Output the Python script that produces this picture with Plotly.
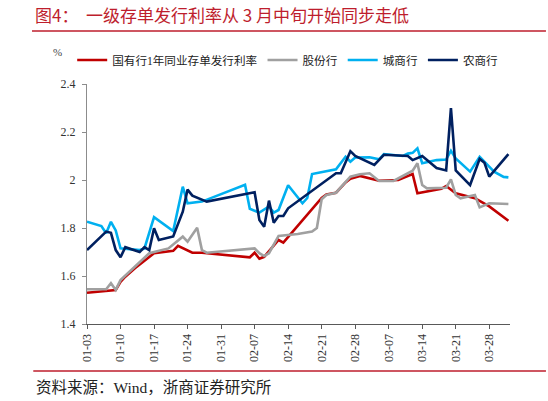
import plotly.graph_objects as go

# ---- data ----
series_names = ["国有行1年同业存单发行利率", "股份行", "城商行", "农商行"]
series_colors = ["#C00000", "#A0A0A0", "#00B0F0", "#002060"]

state_dates = ["2023-01-03", "2023-01-09", "2023-01-10", "2023-01-11", "2023-01-13", "2023-01-17",
               "2023-01-21", "2023-01-22", "2023-01-25", "2023-01-27", "2023-02-06", "2023-02-07",
               "2023-02-08", "2023-02-09", "2023-02-12", "2023-02-13", "2023-02-21", "2023-02-22",
               "2023-02-24", "2023-02-26", "2023-02-27", "2023-03-01", "2023-03-05", "2023-03-09",
               "2023-03-12", "2023-03-13", "2023-03-18", "2023-03-19", "2023-03-21", "2023-03-25",
               "2023-03-28", "2023-03-30", "2023-04-01"]
state_vals = [1.530, 1.542, 1.576, 1.597, 1.632, 1.695,
              1.705, 1.726, 1.697, 1.697, 1.678, 1.697,
              1.672, 1.680, 1.750, 1.739, 1.925, 1.940,
              1.947, 1.990, 2.005, 2.017, 1.997, 2.000,
              2.025, 1.945, 1.963, 1.975, 1.945, 1.924,
              1.890, 1.861, 1.830]

joint_dates = ["2023-01-03", "2023-01-07", "2023-01-08", "2023-01-09", "2023-01-10", "2023-01-16",
               "2023-01-20", "2023-01-23", "2023-01-24", "2023-01-26", "2023-01-27", "2023-01-28",
               "2023-02-07", "2023-02-08", "2023-02-09", "2023-02-10", "2023-02-12", "2023-02-16",
               "2023-02-19", "2023-02-20", "2023-02-21", "2023-02-22", "2023-02-24", "2023-02-27",
               "2023-03-01", "2023-03-03", "2023-03-05", "2023-03-08", "2023-03-12", "2023-03-13",
               "2023-03-14", "2023-03-15", "2023-03-19", "2023-03-20", "2023-03-21", "2023-03-22",
               "2023-03-25", "2023-03-26", "2023-03-28", "2023-04-01"]
joint_vals = [1.545, 1.545, 1.570, 1.542, 1.583, 1.695,
              1.715, 1.764, 1.743, 1.801, 1.708, 1.697,
              1.715, 1.695, 1.683, 1.695, 1.767, 1.775,
              1.785, 1.800, 1.920, 1.9375, 1.947, 2.014,
              2.024, 2.028, 1.996, 1.996, 2.039, 2.070,
              1.979, 1.965, 1.968, 2.003, 1.9375, 1.924,
              1.9375, 1.886, 1.903, 1.900]

city_dates = ["2023-01-03", "2023-01-06", "2023-01-07", "2023-01-08", "2023-01-09", "2023-01-10",
              "2023-01-14", "2023-01-15", "2023-01-17", "2023-01-21", "2023-01-23", "2023-01-24",
              "2023-01-27", "2023-02-05", "2023-02-06", "2023-02-08", "2023-02-10", "2023-02-11",
              "2023-02-12", "2023-02-14", "2023-02-17", "2023-02-18", "2023-02-19", "2023-02-24",
              "2023-02-26", "2023-02-27", "2023-02-28", "2023-03-03", "2023-03-05", "2023-03-06",
              "2023-03-10", "2023-03-11", "2023-03-12", "2023-03-13", "2023-03-14", "2023-03-17",
              "2023-03-19", "2023-03-20", "2023-03-21", "2023-03-24", "2023-03-26", "2023-03-27",
              "2023-03-29", "2023-03-31", "2023-04-01"]
city_vals = [1.826, 1.808, 1.778, 1.826, 1.790, 1.715,
             1.708, 1.715, 1.845, 1.787, 1.972, 1.903,
             1.910, 1.980, 1.880, 1.864, 1.890, 1.864,
             1.875, 1.978, 1.903, 1.925, 2.025, 2.045,
             2.097, 2.076, 2.094, 2.095, 2.086, 2.108,
             2.100, 2.110, 2.113, 2.132, 2.070, 2.083,
             2.085, 2.122, 2.090, 2.035, 2.097, 2.076,
             2.035, 2.013, 2.011]

rural_dates = ["2023-01-03", "2023-01-07", "2023-01-08", "2023-01-09", "2023-01-10", "2023-01-11",
               "2023-01-14", "2023-01-15", "2023-01-16", "2023-01-17", "2023-01-18", "2023-01-21",
               "2023-01-23", "2023-01-24", "2023-01-25", "2023-01-28", "2023-02-07", "2023-02-08",
               "2023-02-09", "2023-02-10", "2023-02-11", "2023-02-12", "2023-02-13", "2023-02-14",
               "2023-02-24", "2023-02-25", "2023-02-27", "2023-02-28", "2023-03-04", "2023-03-06",
               "2023-03-11", "2023-03-12", "2023-03-14", "2023-03-17", "2023-03-19", "2023-03-20",
               "2023-03-21", "2023-03-24", "2023-03-26", "2023-03-27", "2023-03-28", "2023-04-01"]
rural_vals = [1.708, 1.785, 1.780, 1.708, 1.678, 1.720,
              1.700, 1.720, 1.708, 1.799, 1.750, 1.765,
              1.868, 1.960, 1.935, 1.910, 1.949, 1.833,
              1.805, 1.914, 1.822, 1.850, 1.850, 1.882,
              2.028, 2.028, 2.120, 2.100, 2.063, 2.105,
              2.100, 2.083, 2.100, 2.050, 2.040, 2.300,
              2.040, 1.979, 2.088, 2.072, 2.014, 2.108]

y_tickvals = [1.4, 1.6, 1.8, 2.0, 2.2, 2.4]
y_ticktext = ["1.4", "1.6", "1.8", "2", "2.2", "2.4"]

title_text = "图4：  一级存单发行利率从 3 月中旬开始同步走低"
source_text = "资料来源：Wind，浙商证券研究所"
unit_text = "%"

SERIF = "Liberation Serif, Noto Sans CJK SC"
CJK = "Noto Sans CJK SC"
RED = "#BE1E2D"

fig = go.Figure()
all_x = [state_dates, joint_dates, city_dates, rural_dates]
all_y = [state_vals, joint_vals, city_vals, rural_vals]
for name, color, xs, ys in zip(series_names, series_colors, all_x, all_y):
    fig.add_trace(go.Scatter(x=xs, y=ys, mode="lines", name=name,
                             line=dict(color=color, width=2.6)))

fig.update_layout(
    width=548, height=401,
    margin=dict(l=87, r=38, t=84, b=77, autoexpand=False),
    paper_bgcolor="white", plot_bgcolor="white",
    showlegend=True,
    legend=dict(orientation="h", x=-0.035, xanchor="left", y=1.1, yanchor="middle",
                font=dict(family=SERIF, size=11.6, color="#222"),
                itemwidth=30, tracegroupgap=0, bgcolor="rgba(0,0,0,0)"),
    xaxis=dict(type="date", range=["2023-01-03", "2023-04-01 08:00"],
               tick0="2023-01-03", dtick=7 * 24 * 3600 * 1000, tickformat="%m-%d",
               tickangle=-90, ticks="outside", ticklen=4, tickcolor="#595959",
               showline=True, linecolor="#595959", linewidth=1.3,
               showgrid=False, zeroline=False, automargin=False,
               tickfont=dict(family=SERIF, size=12, color="#333")),
    yaxis=dict(range=[1.4, 2.4], tickvals=y_tickvals, ticktext=y_ticktext,
               ticks="outside", ticklen=4, tickcolor="#8C8C8C", ticklabelstandoff=4,
               showline=True, linecolor="#8C8C8C", linewidth=1.3,
               showgrid=False, zeroline=False, automargin=False,
               tickfont=dict(family=SERIF, size=12, color="#333")),
)

fig.add_annotation(text=title_text, xref="paper", yref="paper", x=-0.1277, y=1.2875,
                   xanchor="left", yanchor="middle", showarrow=False,
                   font=dict(family=CJK, size=17, color=RED))
fig.add_annotation(text=unit_text, xref="paper", yref="paper", x=-0.0686, y=1.133,
                   xanchor="center", yanchor="middle", showarrow=False,
                   font=dict(family=SERIF, size=11, color="#444"))
fig.add_annotation(text=source_text, xref="paper", yref="paper", x=-0.125, y=-0.2625,
                   xanchor="left", yanchor="middle", showarrow=False,
                   font=dict(family=SERIF, size=15.5, color="#222"))
fig.add_shape(type="line", xref="paper", yref="paper", x0=-0.130, x1=1.085, y0=1.2208, y1=1.2208,
              line=dict(color=RED, width=1.3))
fig.add_shape(type="line", xref="paper", yref="paper", x0=-0.127, x1=1.085, y0=-0.1958, y1=-0.1958,
              line=dict(color=RED, width=1.3))

# remove the page's default 8px body margin so the figure sits at the window's corner
fig.write_html("out.html",
               config={"displayModeBar": False},
               post_script="document.body.style.margin='0px';document.body.style.overflow='hidden';")
